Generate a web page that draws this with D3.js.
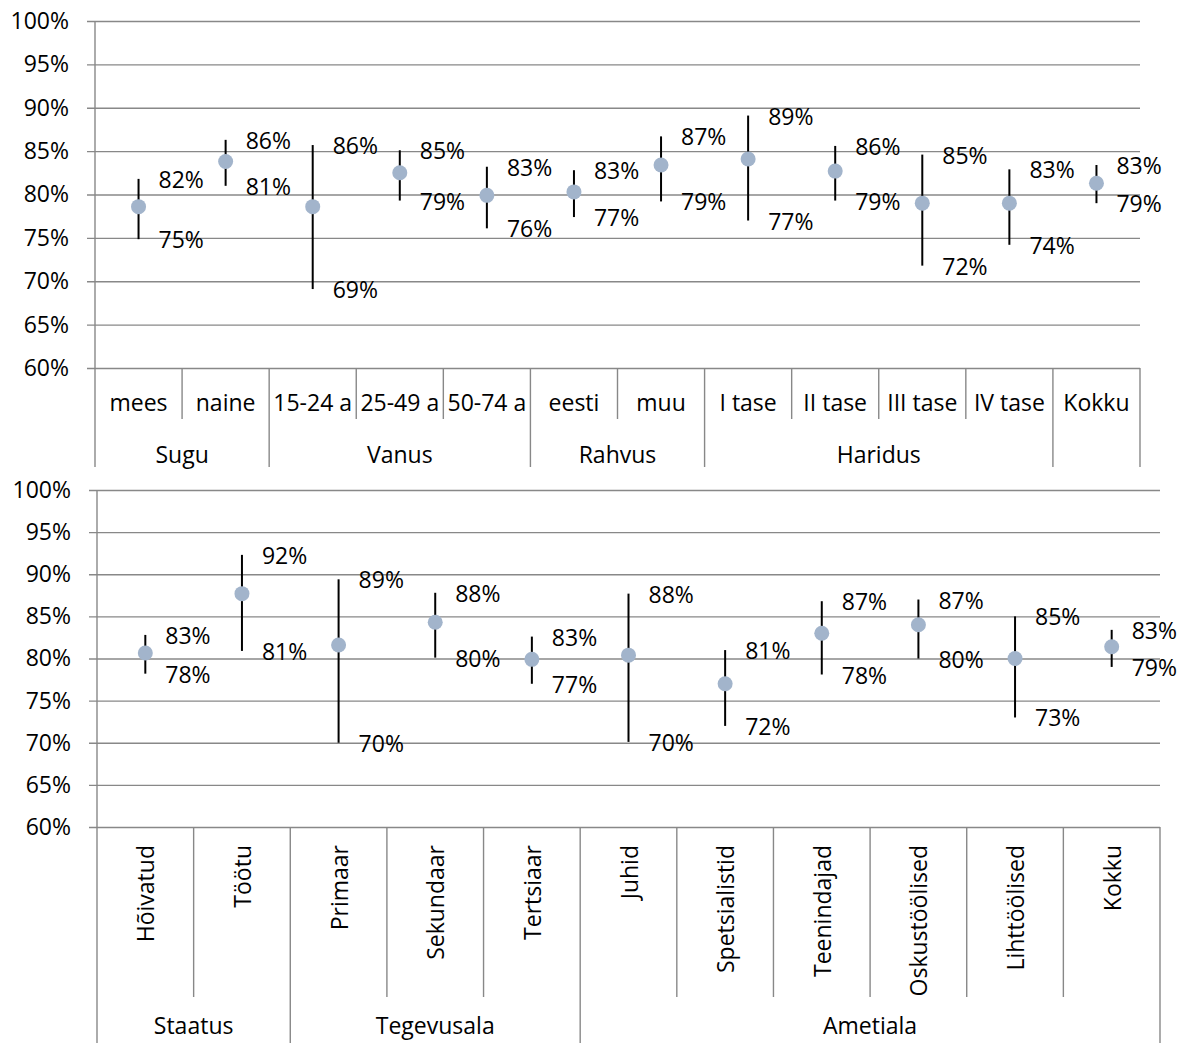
<!DOCTYPE html>
<html>
<head>
<meta charset="utf-8">
<script src="https://cdn.jsdelivr.net/npm/d3@7"></script>
<style>
  body { margin: 0; background: #fff; }
  svg text { font-family: "Open Sans", Lato, sans-serif; fill: #000; }
</style>
</head>
<body>
<svg id="chart" width="1185" height="1043"></svg>
<script>
// top panel
const topCats = ["mees", "naine", "15-24 a", "25-49 a", "50-74 a", "eesti", "muu", "I tase", "II tase", "III tase", "IV tase", "Kokku"];
const topGroupNames = ["Sugu", "Vanus", "Rahvus", "Haridus", ""];
const topGroupSizes = [2, 3, 2, 4, 1];
const topMid = [78.6, 83.8, 78.6, 82.5, 79.9, 80.3, 83.4, 84.1, 82.7, 79.0, 79.0, 81.3];
const topHigh = [81.8, 86.3, 85.7, 85.1, 83.2, 82.8, 86.7, 89.1, 85.6, 84.6, 82.9, 83.4];
const topLow = [74.85, 81.0, 69.1, 79.3, 76.1, 77.4, 79.2, 77.0, 79.3, 71.8, 74.2, 79.0];

// bottom panel
const botCats = ["Hõivatud", "Töötu", "Primaar", "Sekundaar", "Tertsiaar", "Juhid", "Spetsialistid", "Teenindajad", "Oskustöölised", "Lihttöölised", "Kokku"];
const botGroupNames = ["Staatus", "Tegevusala", "Ametiala"];
const botGroupSizes = [2, 3, 6];
const botMid = [80.65, 87.7, 81.6, 84.3, 79.9, 80.4, 77.0, 83.0, 84.0, 80.0, 81.4];
const botHigh = [82.8, 92.3, 89.4, 87.8, 82.6, 87.7, 81.0, 86.8, 87.0, 85.0, 83.4];
const botLow = [78.2, 80.9, 70.0, 80.1, 77.0, 70.1, 72.0, 78.1, 80.0, 73.0, 79.0];

const yTicks = [60, 65, 70, 75, 80, 85, 90, 95, 100];

const gridColor = '#888888';
const dotColor = '#a2b4cb';
const fontSize = 23;

const svg = d3.select('#chart');

function drawPanel(cfg) {
  const g = svg.append('g');
  const x = d3.scaleBand().domain(cfg.cats).range([cfg.x0, cfg.x1]).padding(0);
  const y = d3.scaleLinear().domain([60, 100]).range([cfg.yBot, cfg.yTop]);

  // y axis with gridlines
  const axisY = d3.axisLeft(y)
    .tickValues(yTicks)
    .tickFormat(d => `${d}%`)
    .tickSizeInner(-(cfg.x1 - cfg.x0 + 8))
    .tickSizeOuter(0)
    .tickPadding(18);

  const ax = g.append('g')
    .attr('transform', `translate(${cfg.x0 - 8},0)`)
    .call(axisY);
  ax.select('.domain').remove();
  ax.selectAll('.tick line').attr('stroke', gridColor).attr('stroke-width', 1.4);
  ax.selectAll('.tick text')
    .style('font-size', `${fontSize}px`)
    .attr('fill', '#000');

  // y axis line
  g.append('line')
    .attr('x1', cfg.x0).attr('x2', cfg.x0)
    .attr('y1', cfg.yTop).attr('y2', cfg.groupSepBottom)
    .attr('stroke', gridColor).attr('stroke-width', 1.4);

  // category separators and group separators
  let idx = 0;
  const groupStarts = [];
  cfg.groupSizes.forEach(n => { groupStarts.push(idx); idx += n; });
  cfg.cats.forEach((c, i) => {
    if (i === 0) return;
    const xx = x(c);
    const isGroup = groupStarts.includes(i);
    g.append('line')
      .attr('x1', xx).attr('x2', xx)
      .attr('y1', cfg.yBot)
      .attr('y2', isGroup ? cfg.groupSepBottom : cfg.tickSepBottom)
      .attr('stroke', gridColor).attr('stroke-width', 1.4);
  });
  // right edge
  g.append('line')
    .attr('x1', cfg.x1).attr('x2', cfg.x1)
    .attr('y1', cfg.yBot).attr('y2', cfg.groupSepBottom)
    .attr('stroke', gridColor).attr('stroke-width', 1.4);

  // category labels
  const catLabels = g.selectAll('.cat-label')
    .data(cfg.cats)
    .enter()
    .append('text')
    .attr('class', 'cat-label')
    .style('font-size', `${fontSize}px`)
    .text(d => d);

  if (cfg.rotate) {
    catLabels
      .attr('text-anchor', 'end')
      .attr('dominant-baseline', 'central')
      .attr('transform', d => `translate(${x(d) + x.bandwidth() / 2},${cfg.catLabelY}) rotate(-90)`);
  } else {
    catLabels
      .attr('text-anchor', 'middle')
      .attr('dominant-baseline', 'central')
      .attr('x', d => x(d) + x.bandwidth() / 2)
      .attr('y', cfg.catLabelY);
  }

  // group labels
  cfg.groupNames.forEach((name, gi) => {
    const first = cfg.cats[groupStarts[gi]];
    const last = cfg.cats[groupStarts[gi] + cfg.groupSizes[gi] - 1];
    const cx = (x(first) + x(last) + x.bandwidth()) / 2;
    g.append('text')
      .attr('x', cx)
      .attr('y', cfg.groupLabelY)
      .attr('text-anchor', 'middle')
      .attr('dominant-baseline', 'central')
      .style('font-size', `${fontSize}px`)
      .text(name);
  });

  const rows = cfg.cats.map((c, i) => ({ cat: c, mid: cfg.mid[i], high: cfg.high[i], low: cfg.low[i] }));
  const cx = d => x(d.cat) + x.bandwidth() / 2;

  // whiskers
  g.selectAll('.whisker')
    .data(rows)
    .enter()
    .append('line')
    .attr('class', 'whisker')
    .attr('x1', cx).attr('x2', cx)
    .attr('y1', d => y(d.high))
    .attr('y2', d => y(d.low))
    .attr('stroke', '#000')
    .attr('stroke-width', 2);

  // points
  g.selectAll('.dot')
    .data(rows)
    .enter()
    .append('circle')
    .attr('class', 'dot')
    .attr('cx', cx)
    .attr('cy', d => y(d.mid))
    .attr('r', 7.5)
    .attr('fill', dotColor);

  // value labels
  g.selectAll('.lbl-high')
    .data(rows)
    .enter()
    .append('text')
    .attr('x', d => cx(d) + 20)
    .attr('y', d => y(d.high))
    .attr('dominant-baseline', 'central')
    .style('font-size', `${fontSize}px`)
    .text(d => `${Math.round(d.high)}%`);

  g.selectAll('.lbl-low')
    .data(rows)
    .enter()
    .append('text')
    .attr('x', d => cx(d) + 20)
    .attr('y', d => y(d.low))
    .attr('dominant-baseline', 'central')
    .style('font-size', `${fontSize}px`)
    .text(d => `${Math.round(d.low)}%`);
}

drawPanel({
  cats: topCats, groupNames: topGroupNames, groupSizes: topGroupSizes,
  mid: topMid, high: topHigh, low: topLow,
  x0: 95, x1: 1140, yTop: 21, yBot: 368,
  catLabelY: 402, tickSepBottom: 419, groupSepBottom: 467, groupLabelY: 454,
  rotate: false
});

drawPanel({
  cats: botCats, groupNames: botGroupNames, groupSizes: botGroupSizes,
  mid: botMid, high: botHigh, low: botLow,
  x0: 97, x1: 1160, yTop: 490, yBot: 827,
  catLabelY: 845, tickSepBottom: 997, groupSepBottom: 1043, groupLabelY: 1025,
  rotate: true
});
</script>
</body>
</html>
